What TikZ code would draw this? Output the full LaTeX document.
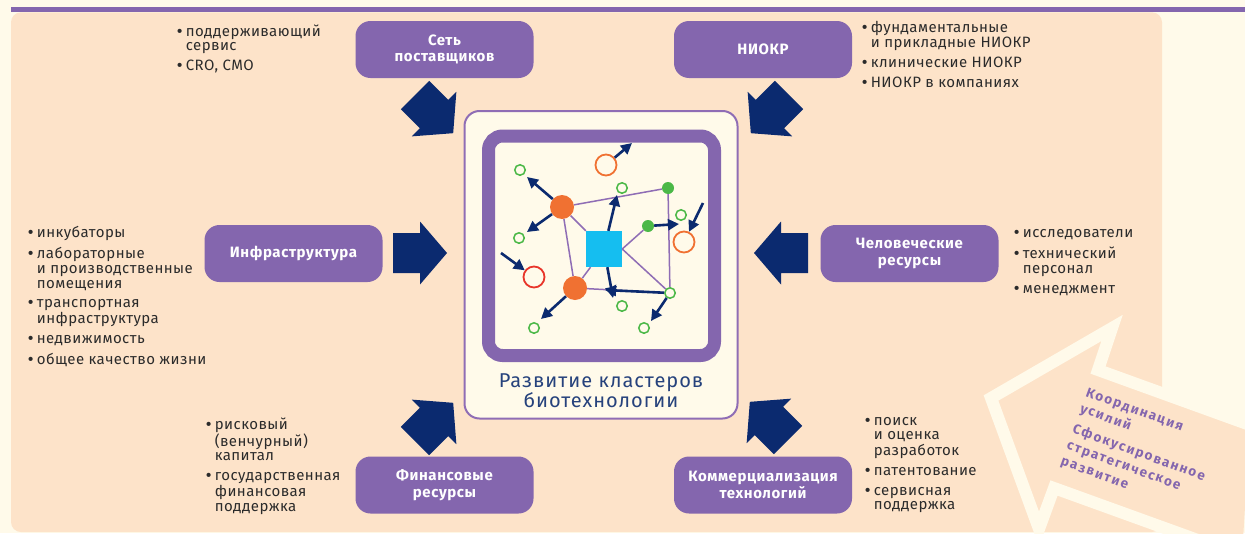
\documentclass[tikz,border=0pt]{standalone}
\usepackage{fontspec}
\setmainfont{Fira Sans}
\newfontfamily\listfam[LetterSpace=3]{Fira Sans}
\newfontfamily\boxfam[LetterSpace=4]{Fira Sans}
\newfontfamily\mottofam[LetterSpace=12]{Fira Sans}
\newfontfamily\titlefam[LetterSpace=5]{Fira Sans}
\usetikzlibrary{arrows.meta}
\definecolor{cream}{HTML}{FFFAEA}
\definecolor{peach}{HTML}{FDE3C9}
\definecolor{boxpurple}{HTML}{8466AE}
\definecolor{linkpurple}{HTML}{8F6DB5}
\definecolor{arrownavy}{HTML}{0B2A6F}
\definecolor{titlenavy}{HTML}{26427C}
\definecolor{listgrey}{HTML}{2B2B2B}
\definecolor{netcyan}{HTML}{15BEF0}
\definecolor{netorange}{HTML}{F07132}
\definecolor{netgreen}{HTML}{4BB847}
\definecolor{netred}{HTML}{E8352A}
\tikzset{blockarrow/.pic={\fill[arrownavy] (0,-20) -- (27,-20) -- (27,-31.5) -- (54,0) -- (27,31.5) -- (27,20) -- (0,20) -- cycle;}}
\newcommand{\bul}{\textbf{\textbullet}}

\begin{document}
\begin{tikzpicture}[x=1pt, y=-1pt,
  hub/.style={fill=boxpurple, rounded corners=15pt, minimum width=178pt, minimum height=57pt, align=center, text=white, font=\boxfam\bfseries\fontsize{15}{16.5}\selectfont},
  lst/.style={anchor=base west, inner sep=0pt, text=listgrey, font=\listfam\fontsize{15}{14.8}\selectfont},
  core/.style={fill=netcyan, minimum size=36pt, inner sep=0pt},
  bigdot/.style={circle, fill=netorange, minimum size=24pt, inner sep=0pt},
  gdot/.style={circle, fill=netgreen, minimum size=12pt, inner sep=0pt},
  gring/.style={circle, draw=netgreen, line width=1.5pt, fill=cream, minimum size=10.5pt, inner sep=0pt},
  oring/.style={circle, draw=#1, line width=1.8pt, minimum size=21pt, inner sep=0pt},
  link/.style={draw=linkpurple, line width=1.5pt},
  push/.style={draw=arrownavy, line width=2.6pt, -{Triangle[length=11pt,width=11pt]}},
]
  \useasboundingbox (0,0) rectangle (1245,533);
  \clip (0,0) rectangle (1245,533);
  \fill[cream] (0,0) rectangle (1245,533);
  \fill[boxpurple] (11,6.7) rectangle (1245,12.3);
  \fill[peach, rounded corners=10pt] (11,12.3) rectangle (1162,532);

  % coordination arrow, bottom right
  \fill[peach] (1250,425) -- (1098,370) -- (1112,328) -- (991,398) -- (1039,529) -- (1054,488) -- (1242,556) -- cycle;
  \draw[cream, line width=12pt, line join=miter] (1250,425) -- (1098,370) -- (1112,328) -- (991,398) -- (1039,529) -- (1054,488) -- (1242,556);
  \node[rotate=-20, anchor=base west, inner sep=0pt, text=boxpurple, font=\mottofam\bfseries\fontsize{13.5}{17}\selectfont] (motto) at (1085,396)
    {\begin{tabular}[t]{@{}l@{}}Координация\\усилий\\[5pt]Сфокусированное\\стратегическое\\развитие\end{tabular}};

  % cluster
  \draw[linkpurple, line width=2pt, fill=cream, rounded corners=15pt] (464.5,111) rectangle (737.5,418.5);
  \draw[boxpurple, line width=13pt, rounded corners=14pt] (488.5,136) rectangle (714.5,355.5);
  \node[anchor=base, inner sep=0pt, text=titlenavy, font=\titlefam\fontsize{20}{18.7}\selectfont] (title) at (601,387.3)
    {\begin{tabular}[t]{@{}c@{}}Развитие кластеров\\биотехнологии\end{tabular}};

  % factors
  \node[hub] (supply) at (444.5,49.5) {Сеть\\поставщиков};
  \node[hub] (rnd) at (763,49.5) {НИОКР};
  \node[hub] (infra) at (293.5,253.5) {Инфраструктура};
  \node[hub] (people) at (909.5,253.5) {Человеческие\\ресурсы};
  \node[hub] (finance) at (444.5,485) {Финансовые\\ресурсы};
  \node[hub] (commerce) at (763,485) {Коммерциализация\\технологий};

  \pic[rotate=-45] at (415,95) {blockarrow};
  \pic[rotate=-135] at (789,95) {blockarrow};
  \pic at (393,253) {blockarrow};
  \pic[rotate=180] at (808,253) {blockarrow};
  \pic[rotate=45] at (415,441) {blockarrow};
  \pic[rotate=135] at (788,440) {blockarrow};

  % lists
  \node[lst] (supplylist) at (177,36)
    {\begin{tabular}[t]{@{}l@{\hspace{3pt}}l@{}}\bul & поддерживающий\\ & сервис\\[5pt]\bul & CRO, CMO\end{tabular}};
  \node[lst] (rndlist) at (862,32.3)
    {\begin{tabular}[t]{@{}l@{\hspace{3pt}}l@{}}\bul & фундаментальные\\ & и прикладные НИОКР\\[5pt]\bul & клинические НИОКР\\[5pt]\bul & НИОКР в компаниях\end{tabular}};
  \node[lst] (infralist) at (28,237.7)
    {\begin{tabular}[t]{@{}l@{\hspace{3pt}}l@{}}\bul & инкубаторы\\[5pt]\bul & лабораторные\\ & и производственные\\ & помещения\\[5pt]\bul & транспортная\\ & инфраструктура\\[5pt]\bul & недвижимость\\[5pt]\bul & общее качество жизни\end{tabular}};
  \node[lst] (peoplelist) at (1014,237.7)
    {\begin{tabular}[t]{@{}l@{\hspace{3pt}}l@{}}\bul & исследователи\\[5pt]\bul & технический\\ & персонал\\[5pt]\bul & менеджмент\end{tabular}};
  \node[lst] (financelist) at (206,429)
    {\begin{tabular}[t]{@{}l@{\hspace{3pt}}l@{}}\bul & рисковый\\ & (венчурный)\\ & капитал\\[5pt]\bul & государственная\\ & финансовая\\ & поддержка\end{tabular}};
  \node[lst] (commercelist) at (865,425)
    {\begin{tabular}[t]{@{}l@{\hspace{3pt}}l@{}}\bul & поиск\\ & и оценка\\ & разработок\\[5pt]\bul & патентование\\[5pt]\bul & сервисная\\ & поддержка\end{tabular}};

  % network inside the cluster
  \node[core] (hubsq) at (604,249) {};
  \node[bigdot] (hubA) at (562,207) {};
  \node[bigdot] (hubB) at (575,288) {};
  \node[gdot] (seedA) at (668,188) {};
  \node[gdot] (seedB) at (648,226) {};
  \node[gring] (ringA) at (520,170) {};
  \node[gring] (ringB) at (622,188) {};
  \node[gring] (ringC) at (519,238) {};
  \node[gring] (ringD) at (681,215) {};
  \node[gring] (ringE) at (670,293) {};
  \node[gring] (ringF) at (622,306) {};
  \node[gring] (ringG) at (534,328) {};
  \node[gring] (ringH) at (644,328) {};
  \node[oring=netorange] (spotA) at (606,165) {};
  \node[oring=netorange] (spotB) at (684,242) {};
  \node[oring=netred] (spotC) at (534,277) {};

  \draw[link] (hubA) -- (seedA);
  \draw[link] (seedA) -- (ringE);
  \draw[link] (hubA) -- (hubsq);
  \draw[link] (hubA) -- (hubB);
  \draw[link] (hubB) -- (hubsq);
  \draw[link] (hubB) -- (ringE);
  \draw[link] (hubsq.east) -- (seedB);
  \draw[link] (hubsq.east) -- (ringE);

  \coordinate (tipA) at (527,177);
  \coordinate (tipB) at (527,232);
  \coordinate (tipC) at (632,143);
  \coordinate (tipD) at (617,195);
  \coordinate (tipE) at (613,298);
  \coordinate (tipF) at (605,290);
  \coordinate (tipG) at (679,224);
  \coordinate (tipH) at (541,319);
  \coordinate (tipI) at (651,321);
  \coordinate (srcA) at (703,203);
  \coordinate (srcB) at (501,253);

  \draw[push] (hubA) -- (tipA);
  \draw[push] (hubA) -- (tipB);
  \draw[push] (spotA) -- (tipC);
  \draw[push] (hubsq) -- (tipD);
  \draw[push] (hubsq) -- (tipE);
  \draw[push] (ringE) -- (tipF);
  \draw[push] (seedB) -- (tipG);
  \draw[push] (srcA) -- (spotB);
  \draw[push] (srcB) -- (spotC);
  \draw[push] (hubB) -- (tipH);
  \draw[push] (ringE) -- (tipI);
\end{tikzpicture}
\end{document}
